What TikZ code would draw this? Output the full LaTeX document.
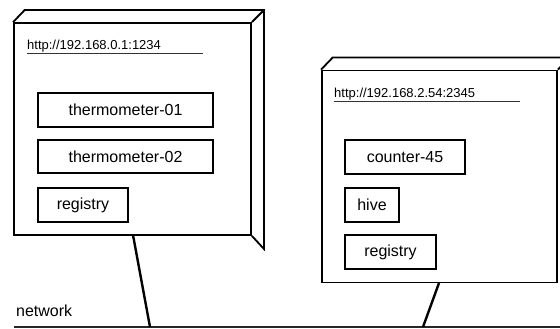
\documentclass[tikz,border=0pt]{standalone}
\usepackage{fontspec}
\setmainfont{Liberation Sans}
\begin{document}
\begin{tikzpicture}[x=1pt,y=-1pt,
  face/.style={draw,line width=1.8pt,minimum width=237pt,minimum height=212pt,inner sep=0pt},
  depth/.style={draw,line width=1.8pt,line join=miter},
  comp/.style={draw,line width=1.8pt,inner sep=0pt,font=\fontsize{16}{19}\selectfont,text=black},
  url/.style={anchor=base west,inner sep=0pt,font=\fontsize{13}{15}\selectfont},
  uline/.style={draw=black!80,line width=1pt},
  link/.style={draw,line width=2.4pt},
  net/.style={draw=black!85,line width=1.2pt}]
\useasboundingbox (0,0) rectangle (560,329);
% left node
\node[face] (A) at (132.5,129) {};
\draw[depth] (A.north west) -- ++(11.5,-12) -| ([xshift=12pt,yshift=-13pt]A.south east) -- (A.south east);
\draw[depth] (A.north east) -- ++(12,-12);
\node[url] (Aurl) at (27,50) {http://192.168.0.1:1234};
\coordinate (Au1) at (27,54);
\coordinate (Au2) at (203,54);
\draw[uline] (Au1) -- (Au2);
\node[comp,minimum width=175pt,minimum height=34pt] (t1) at (125.5,110) {thermometer-01};
\node[comp,minimum width=175pt,minimum height=33pt] (t2) at (125.5,156.5) {thermometer-02};
\node[comp,minimum width=90pt,minimum height=34pt] (r1) at (83,205) {registry};
% right node
\node[face,minimum width=235pt] (B) at (439.5,176.5) {};
\draw[depth] (B.north west) -- ++(11.5,-12) -- ++(240,0);
\draw[depth] (B.north east) -- ++(12,-12);
\node[url] (Burl) at (334,97) {http://192.168.2.54:2345};
\coordinate (Bu1) at (334,102);
\coordinate (Bu2) at (520,102);
\draw[uline] (Bu1) -- (Bu2);
\node[comp,minimum width=120pt,minimum height=34pt] (c45) at (405,157) {counter-45};
\node[comp,minimum width=54pt,minimum height=34pt] (hv) at (372,205) {hive};
\node[comp,minimum width=91pt,minimum height=34pt] (r2) at (390.5,252) {registry};
% network
\coordinate (N1) at (14,327);
\coordinate (N2) at (560,327);
\draw[net] (N1) -- (N2);
\node[anchor=base west,inner sep=0pt,font=\fontsize{16}{19}\selectfont] (netlbl) at (16,316) {network};
\coordinate (Ab) at (133,235);
\coordinate (An) at (150,327);
\coordinate (Bb) at (439,283);
\coordinate (Bn) at (423,327);
\draw[link] (Ab) -- (An);
\draw[link] (Bb) -- (Bn);
\end{tikzpicture}
\end{document}
